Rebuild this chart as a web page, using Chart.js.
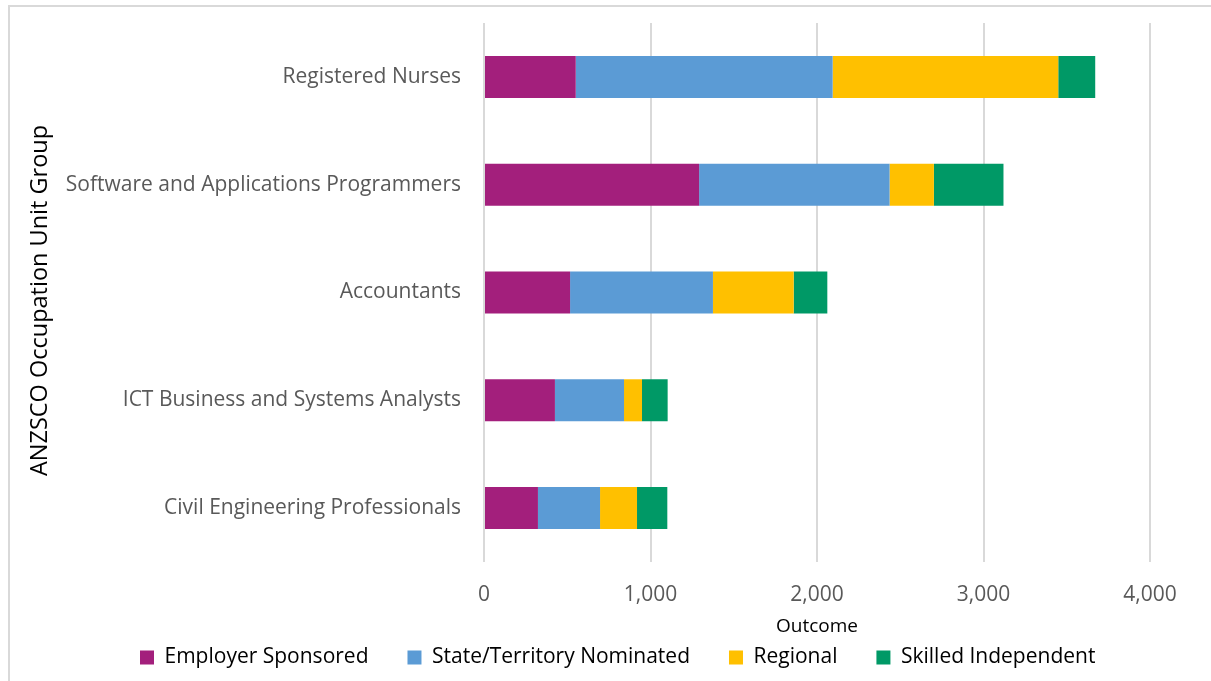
<!DOCTYPE html>
<html>
<head>
<meta charset="utf-8">
<script src="https://cdn.jsdelivr.net/npm/chart.js@4.4.1/dist/chart.umd.min.js"></script>
<style>
  html, body { margin: 0; padding: 0; background: #ffffff; }
  #wrap { position: relative; width: 1211px; height: 681px; }
  canvas { display: block; }
</style>
</head>
<body>
<div id="wrap"><canvas id="c" width="1211" height="681"></canvas></div>
<script>
const categories = [
  "Registered Nurses",
  "Software and Applications Programmers",
  "Accountants",
  "ICT Business and Systems Analysts",
  "Civil Engineering Professionals"
];
const employerSponsored = [551, 1292, 517, 426, 324];
const stateTerritoryNominated = [1543, 1144, 858, 415, 373];
const regional = [1355, 266, 485, 108, 222];
const skilledIndependent = [222, 418, 202, 154, 182];
const xTicks = [0, 1000, 2000, 3000, 4000];

const FONT = "'Open Sans', 'DejaVu Sans', sans-serif";
const PAD_LEFT = 28;
const LEGEND_START_X = 140;
const Y_TITLE_SHIFT = 8;

const frame = {
  id: 'frame',
  beforeDraw(chart) {
    const ctx = chart.ctx;
    ctx.save();
    ctx.fillStyle = '#ffffff';
    ctx.fillRect(0, 0, chart.width, chart.height);
    ctx.strokeStyle = '#d9d9d9';
    ctx.lineWidth = 2;
    ctx.beginPath();
    ctx.moveTo(9, chart.height + 5);
    ctx.lineTo(9, 6);
    ctx.lineTo(chart.width + 5, 6);
    ctx.stroke();
    ctx.restore();
  }
};

// place the legend row and the y-axis title where the reference has them
const nudge = {
  id: 'nudge',
  afterLayout(chart) {
    const lg = chart.legend;
    if (lg && lg.lineWidths) {
      const pad = lg.options.labels.padding;
      const start = (lg.left + pad + lg.right - lg.lineWidths[0]) / 2;
      const d = LEGEND_START_X - start;
      lg.left += d;
      lg.right += d;
    }
    const y = chart.scales.y;
    if (y) {
      y.top += Y_TITLE_SHIFT;
      y.bottom += Y_TITLE_SHIFT;
    }
  }
};

new Chart(document.getElementById('c'), {
  type: 'bar',
  data: {
    labels: categories,
    datasets: [
      { label: 'Employer Sponsored', data: employerSponsored, backgroundColor: '#A31F7C' },
      { label: 'State/Territory Nominated', data: stateTerritoryNominated, backgroundColor: '#5B9BD5' },
      { label: 'Regional', data: regional, backgroundColor: '#FFC000' },
      { label: 'Skilled Independent', data: skilledIndependent, backgroundColor: '#009966' }
    ]
  },
  options: {
    indexAxis: 'y',
    responsive: false,
    animation: false,
    devicePixelRatio: 1,
    layout: { padding: { left: PAD_LEFT, top: 23, right: 61, bottom: 3 } },
    datasets: { bar: { categoryPercentage: 1, barPercentage: 0.39, borderWidth: 0 } },
    scales: {
      x: {
        stacked: true,
        min: 0,
        max: 4000,
        afterBuildTicks(s) { s.ticks = xTicks.map(v => ({ value: v })); },
        ticks: {
          color: '#595959',
          font: { family: FONT, size: 21 },
          padding: 20,
          callback: v => Number(v).toLocaleString('en-US')
        },
        grid: { color: '#d9d9d9', lineWidth: 2, drawTicks: false },
        border: { display: false },
        title: {
          display: true,
          text: 'Outcome',
          color: '#000000',
          font: { family: FONT, size: 19 },
          padding: { top: 0, bottom: -30 }
        },
        afterFit(s) { s.height = 46; }
      },
      y: {
        stacked: true,
        ticks: {
          color: '#595959',
          font: { family: FONT, size: 21 },
          padding: 23
        },
        grid: { display: false, drawTicks: false },
        border: { display: false },
        title: {
          display: true,
          text: 'ANZSCO Occupation Unit Group',
          color: '#000000',
          font: { family: FONT, size: 23.5 },
          padding: { top: -2, bottom: 0 }
        },
        afterFit(s) {
          s.width = 484 - PAD_LEFT;
          s.paddingTop = 0;
          s.paddingBottom = 0;
        }
      }
    },
    plugins: {
      legend: {
        position: 'bottom',
        labels: {
          color: '#000000',
          font: { family: FONT, size: 21 },
          boxWidth: 14,
          boxHeight: 14,
          padding: 39
        }
      },
      tooltip: { enabled: false }
    }
  },
  plugins: [frame, nudge]
});
</script>
</body>
</html>
